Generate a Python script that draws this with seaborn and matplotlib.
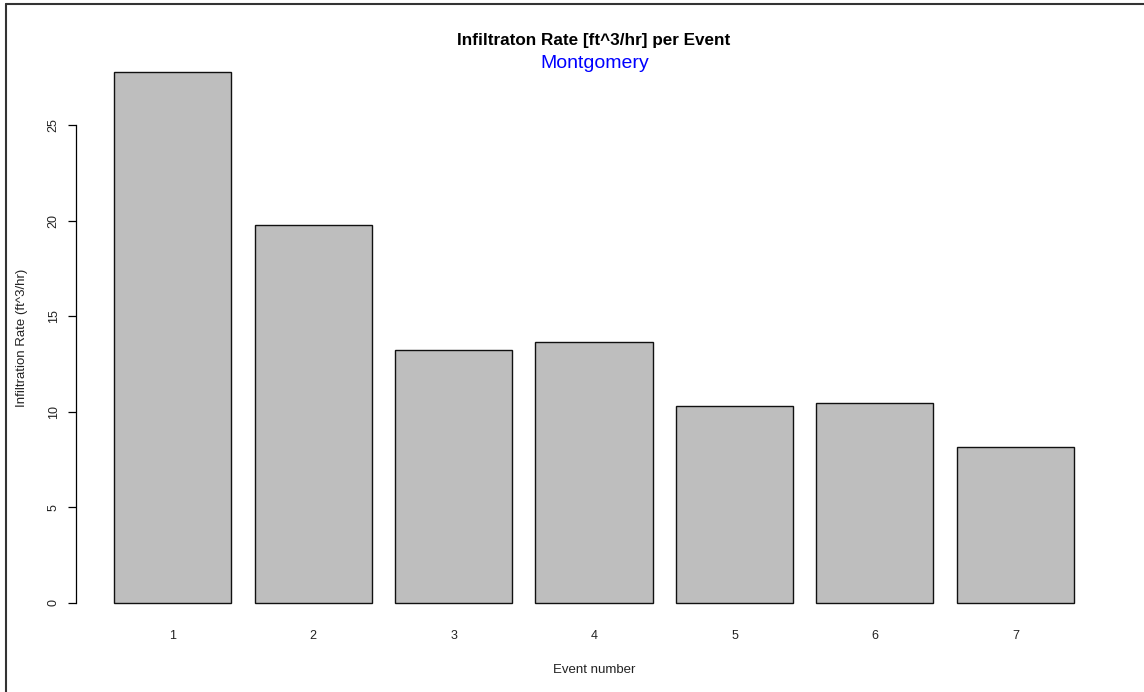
import matplotlib
matplotlib.use("Agg")
import matplotlib.pyplot as plt
import seaborn as sns
import pandas as pd
from matplotlib.lines import Line2D

events = ["1", "2", "3", "4", "5", "6", "7"]
rates = [27.77, 19.77, 13.23, 13.65, 10.30, 10.46, 8.16]
y_ticks = [0, 5, 10, 15, 20, 25]

sns.set_style("white")
plt.rcParams['font.family'] = ['Liberation Sans', 'DejaVu Sans']

W, H = 1144, 692
fig = plt.figure(figsize=(W / 100, H / 100), dpi=100)
ax = fig.add_axes([75.6 / W, 68 / H, (1112.4 - 75.6) / W, (624 - 50.8) / H])

df = pd.DataFrame({"event": events, "rate": rates})
sns.barplot(data=df, x="event", y="rate", ax=ax, color="#BEBEBE",
            saturation=1, edgecolor="#111111", linewidth=1.0, width=0.833)

ax.set_xlim(-0.69, 6.69)
ax.set_ylim(-1.11, 28.88)
for s in ["top", "right", "bottom"]:
    ax.spines[s].set_visible(False)
ax.spines["left"].set_bounds(0, 25)
ax.spines["left"].set_linewidth(0.9)
ax.spines["left"].set_color("black")
ax.set_yticks(y_ticks)
ax.set_yticklabels([str(t) for t in y_ticks], rotation=90, va="center", fontsize=9)
ax.tick_params(axis="y", left=True, direction="out", length=5.5, width=0.9,
               color="black", pad=6, labelcolor="#222222")
ax.tick_params(axis="x", bottom=False, length=0, pad=4, labelsize=9, labelcolor="#222222")

ax.set_xlabel("Event number", fontsize=9.5, labelpad=16, color="#222222")
ax.set_ylabel("Infiltration Rate (ft^3/hr)", fontsize=9.5, labelpad=14, color="#222222")

fig.text(594 / W, 1 - 40 / H, "Infiltraton Rate [ft^3/hr] per Event", ha="center", va="center",
         fontsize=12.3, fontweight="bold", color="black")
fig.text(595 / W, 1 - 63 / H, "Montgomery", ha="center", va="center",
         fontsize=14, color="#0000FF")

fig.add_artist(Line2D([5.5 / W, 5.5 / W], [0, 1 - 3.5 / H], transform=fig.transFigure, color="#333333", lw=1.5))
fig.add_artist(Line2D([5.5 / W, 1], [1 - 3.5 / H, 1 - 3.5 / H], transform=fig.transFigure, color="#333333", lw=1.5))

fig.savefig("out.png", dpi=100)
